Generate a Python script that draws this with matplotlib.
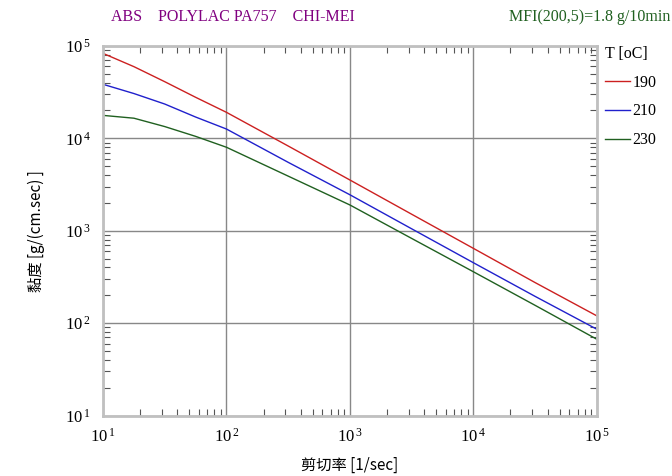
import numpy as np
import matplotlib.pyplot as plt
from matplotlib.ticker import LogLocator, FuncFormatter, NullFormatter

plt.rcParams['font.family'] = ['Liberation Serif', 'Noto Sans CJK TC']
plt.rcParams['mathtext.fontset'] = 'stix'

### Data
shear_rate = [10, 17.8, 31.6, 56.2, 100, 316, 1000, 3162, 10000, 31623, 100000]
visc_190 = [83000, 59600, 41000, 27800, 19100, 8260, 3540, 1510, 645, 275, 120]
visc_210 = [38400, 30500, 23500, 17000, 12600, 5500, 2450, 1050, 451, 195, 86]
visc_230 = [17700, 16500, 13400, 10500, 8000, 3900, 1900, 826, 360, 156, 67]
temps = ['190', '210', '230']
colors = ['#cc2020', '#2020cc', '#206020']


def pow10(v, pos):
    return r'$\mathregular{10^{\,%d}}$' % round(np.log10(v))


### Figure
fig = plt.figure(figsize=(6.72, 4.76), dpi=100)
ax = fig.add_axes([0.1533, 0.127, 0.7347, 0.7766])

for yy, lab, c in zip([visc_190, visc_210, visc_230], temps, colors):
    ax.plot(shear_rate, yy, color=c, lw=1.0, label=lab)

ax.set_xscale('log')
ax.set_yscale('log')
ax.set_xlim(10, 1e5)
ax.set_ylim(10, 1e5)

ax.xaxis.set_major_locator(LogLocator(base=10, numticks=10))
ax.yaxis.set_major_locator(LogLocator(base=10, numticks=10))
ax.xaxis.set_major_formatter(FuncFormatter(pow10))
ax.yaxis.set_major_formatter(FuncFormatter(pow10))
ax.xaxis.set_minor_locator(LogLocator(base=10, subs=np.arange(2, 10), numticks=20))
ax.yaxis.set_minor_locator(LogLocator(base=10, subs=np.arange(2, 10), numticks=20))
ax.xaxis.set_minor_formatter(NullFormatter())
ax.yaxis.set_minor_formatter(NullFormatter())

ax.grid(True, which='major', color='#888888', lw=1.0)
ax.tick_params(which='major', length=0, pad=9, labelsize=12)
ax.tick_params(which='minor', direction='in', length=5, color='#555555',
               top=True, right=True, width=0.8)
for s in ax.spines.values():
    s.set_color('#c0c0c0')
    s.set_linewidth(2)

ax.set_xlabel('剪切率 [1/sec]', fontsize=11, labelpad=8,
              family=['Noto Sans CJK TC', 'Liberation Serif'])
ax.set_ylabel('黏度 [g/(cm.sec) ]', fontsize=11, labelpad=14,
              family=['Noto Sans CJK TC', 'Liberation Serif'])

leg = ax.legend(loc='upper left', bbox_to_anchor=(1.016, 1.0), frameon=False,
                title='T [oC]', fontsize=11.5, title_fontsize=11.5,
                borderpad=0, borderaxespad=0,
                handlelength=1.6, handletextpad=0.15, labelspacing=0.8)
leg._legend_box.align = 'left'

fig.text(0.165, 0.955, 'ABS    POLYLAC PA757    CHI-MEI', color='#800080', fontsize=11.5)
fig.text(0.997, 0.955, 'MFI(200,5)=1.8 g/10min', color='#206020', fontsize=11.5, ha='right')

plt.savefig('out.png', dpi=100)
